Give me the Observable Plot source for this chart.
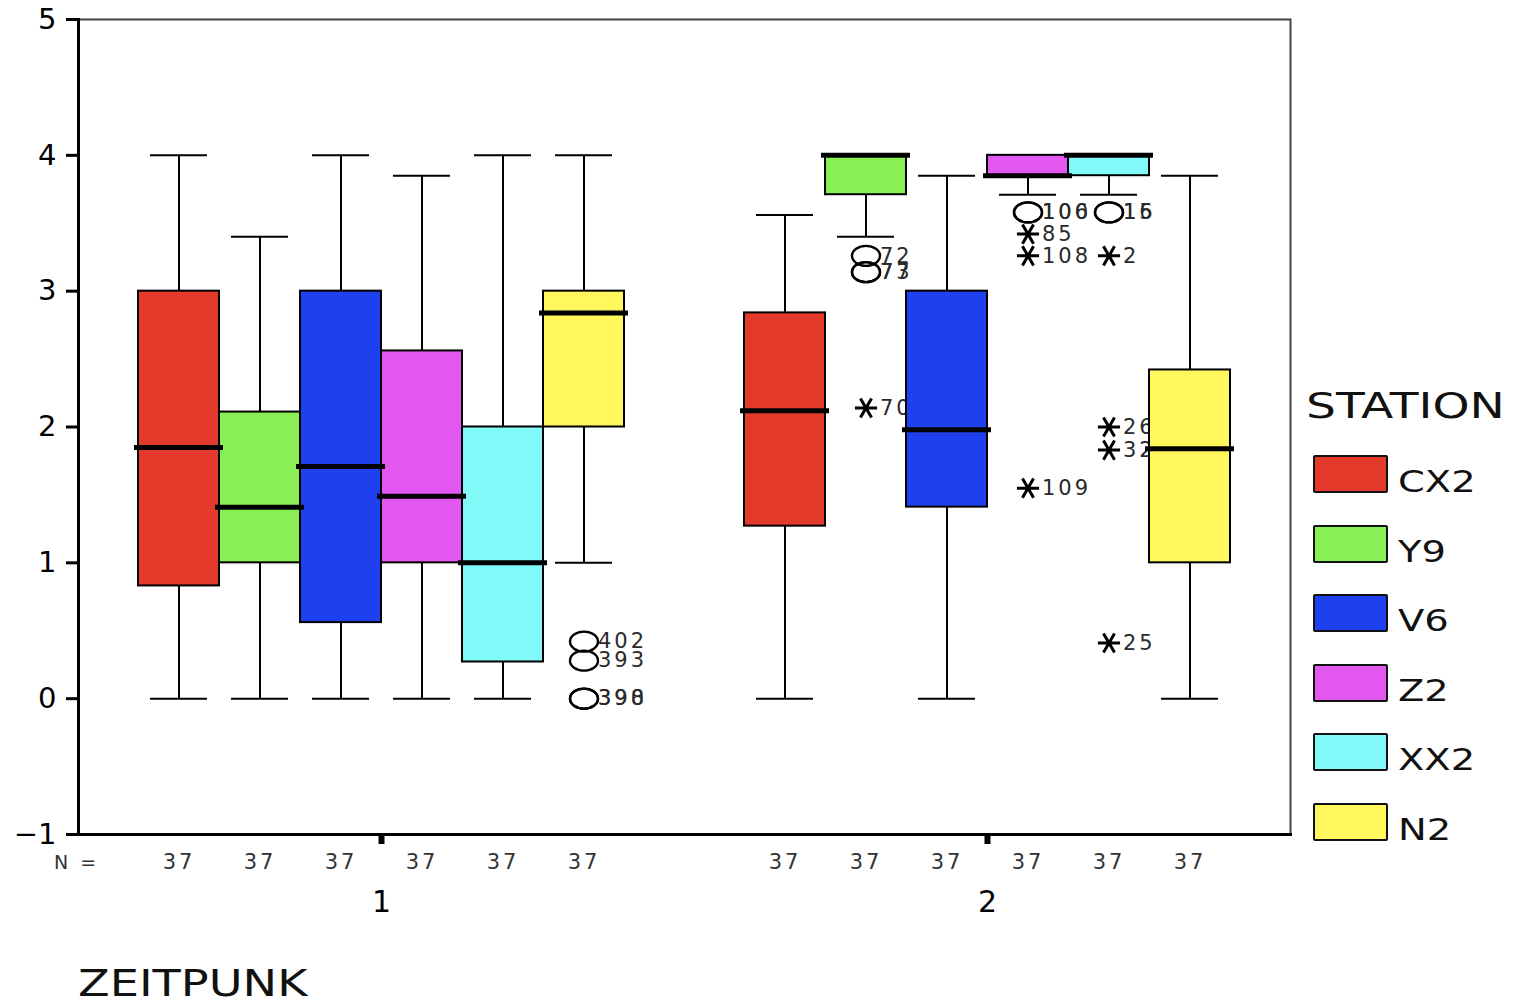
<!DOCTYPE html>
<html><head><meta charset="utf-8">
<script src="https://cdn.jsdelivr.net/npm/d3@7"></script>
<script src="https://cdn.jsdelivr.net/npm/@observablehq/plot@0.6"></script>
<style>
body{margin:0;background:#fff;font-family:"DejaVu Sans",sans-serif;}
#wrap{position:relative;width:1530px;height:1004px;overflow:hidden;background:#fff;}
#chart{position:absolute;left:0;top:0;}
.legend-title{position:absolute;left:1306px;top:388px;font-size:36px;line-height:1;transform:scaleX(1.31);transform-origin:left top;color:#111;}
.sw{position:absolute;left:1313px;width:71px;height:34px;border:2px solid #111;border-radius:2px;}
.lab{position:absolute;left:1398px;font-size:31px;line-height:1;transform:scaleX(1.24);transform-origin:left top;color:#111;}
.xtitle{position:absolute;left:78px;top:969px;font-size:37px;line-height:0.8;transform:scaleX(1.25);transform-origin:left top;color:#111;}
</style></head><body>
<div id="wrap"><div id="chart"></div><div class="xtitle">ZEITPUNK</div><div id="legend"></div></div>
<script>
// ---- categories ----
const stations = ["CX2", "Y9", "V6", "Z2", "XX2", "N2"];
const stationColors = ["#e43a2b", "#88ef55", "#1f40ee", "#e157ef", "#80f9f8", "#fff75c"];
const zeitpunkte = ["1", "2"];
const yTicks = [-1, 0, 1, 2, 3, 4, 5];

// ---- box statistics, ZEITPUNKT 1 (station order) ----
const t1Min    = [0.00, 0.00, 0.00, 0.00, 0.00, 1.00];
const t1Q1     = [0.83, 1.00, 0.56, 1.00, 0.27, 2.00];
const t1Median = [1.85, 1.41, 1.71, 1.49, 1.00, 2.84];
const t1Q3     = [3.00, 2.11, 3.00, 2.56, 2.00, 3.00];
const t1Max    = [4.00, 3.40, 4.00, 3.85, 4.00, 4.00];
const t1N      = [37, 37, 37, 37, 37, 37];

// ---- box statistics, ZEITPUNKT 2 ----
const t2Min    = [0.00, 3.40, 0.00, 3.71, 3.71, 0.00];
const t2Q1     = [1.27, 3.71, 1.41, 3.85, 3.85, 1.00];
const t2Median = [2.12, 4.00, 1.98, 3.85, 4.00, 1.84];
const t2Q3     = [2.84, 4.00, 3.00, 4.00, 4.00, 2.42];
const t2Max    = [3.56, 4.00, 3.85, 4.00, 4.00, 3.85];
const t2N      = [37, 37, 37, 37, 37, 37];

// ---- outliers (o) and extremes (*) ----
const outTime    = ["1","1","1","1","2","2","2","2","2","2","2","2","2","2","2","2","2","2","2"];
const outStation = ["N2","N2","N2","N2","Y9","Y9","Y9","Y9","Z2","Z2","Z2","Z2","Z2","XX2","XX2","XX2","XX2","XX2","XX2"];
const outValue   = [0.42, 0.28, 0.00, 0.00, 3.26, 3.14, 3.14, 2.14, 3.58, 3.58, 3.42, 3.26, 1.55, 3.58, 3.58, 3.26, 2.00, 1.83, 0.41];
const outCase    = ["402","393","398","390","72","77","73","70","106","100","85","108","109","16","15","2","26","32","25"];
const outKind    = ["o","o","o","o","o","o","o","*","o","o","*","*","*","o","o","*","*","*","*"];

// ---- build tables ----
const stats = {
  "1": {min: t1Min, q1: t1Q1, median: t1Median, q3: t1Q3, max: t1Max, n: t1N},
  "2": {min: t2Min, q1: t2Q1, median: t2Median, q3: t2Q3, max: t2Max, n: t2N}
};
const boxes = [];
zeitpunkte.forEach(t => stations.forEach((s, i) => boxes.push({
  time: t, station: s, min: stats[t].min[i], q1: stats[t].q1[i], median: stats[t].median[i],
  q3: stats[t].q3[i], max: stats[t].max[i], n: String(stats[t].n[i])
})));
const outliers = outTime.map((t, i) => ({time: t, station: outStation[i], value: outValue[i], label: outCase[i], kind: outKind[i]}));

const ellipse = {
  draw(context, size) {
    const r = Math.sqrt(size / Math.PI);
    const rx = r * 1.4, ry = r, k = 0.5523;
    context.moveTo(rx, 0);
    context.bezierCurveTo(rx, ry * k, rx * k, ry, 0, ry);
    context.bezierCurveTo(-rx * k, ry, -rx, ry * k, -rx, 0);
    context.bezierCurveTo(-rx, -ry * k, -rx * k, -ry, 0, -ry);
    context.bezierCurveTo(rx * k, -ry, rx, -ry * k, rx, 0);
    context.closePath();
  }
};
const fmt = d => d < 0 ? "\u2212" + (-d) : String(d);

const plot = Plot.plot({
  width: 1300, height: 920,
  marginLeft: 78, marginRight: 10, marginTop: 19, marginBottom: 86,
  style: {fontFamily: "DejaVu Sans, sans-serif", background: "white", overflow: "visible"},
  fx: {domain: zeitpunkte, paddingInner: 0, paddingOuter: 0, axis: null, label: null},
  x: {domain: stations, paddingInner: 0, paddingOuter: 0.74, axis: null, label: null},
  y: {domain: [-1, 5], axis: null, label: null},
  color: {domain: stations, range: stationColors},
  marks: [
    Plot.text(outliers, {fx: "time", x: "station", y: "value", text: "label", textAnchor: "start", dx: 14, fontSize: 21, fill: "#2a2a2a"}),
    Plot.ruleX(boxes, {fx: "time", x: "station", y1: "min", y2: "max", stroke: "black", strokeWidth: 2}),
    Plot.tickY(boxes.filter(d => d.min < d.q1), {fx: "time", x: "station", y: "min", stroke: "black", strokeWidth: 2, insetLeft: 12, insetRight: 12}),
    Plot.tickY(boxes.filter(d => d.max > d.q3), {fx: "time", x: "station", y: "max", stroke: "black", strokeWidth: 2, insetLeft: 12, insetRight: 12}),
    Plot.barY(boxes, {fx: "time", x: "station", y1: "q1", y2: "q3", fill: "station", stroke: "black", strokeWidth: 2}),
    Plot.tickY(boxes, {fx: "time", x: "station", y: "median", stroke: "black", strokeWidth: 5, insetLeft: -4, insetRight: -4}),
    Plot.dot(outliers.filter(d => d.kind === "o"), {fx: "time", x: "station", y: "value", symbol: ellipse, r: 10, stroke: "black", strokeWidth: 2.4, fill: "none"}),
    Plot.dot(outliers.filter(d => d.kind === "*"), {fx: "time", x: "station", y: "value", symbol: "asterisk", rotate: 90, r: 10.5, stroke: "black", strokeWidth: 3}),
    Plot.frame({facet: "super", stroke: "#444", strokeWidth: 2}),
    Plot.frame({facet: "super", anchor: "left", stroke: "black", strokeWidth: 3}),
    Plot.frame({facet: "super", anchor: "bottom", stroke: "black", strokeWidth: 3}),
    Plot.axisY({ticks: yTicks, tickFormat: fmt, tickSize: 12, tickPadding: 10, strokeWidth: 3, fontSize: 29, fill: "black", label: null}),
    Plot.axisFx({anchor: "bottom", tickSize: 10, strokeWidth: 6, tickPadding: 46, fontSize: 30, label: null}),
    Plot.text(boxes, {fx: "time", x: "station", text: "n", frameAnchor: "bottom", dy: 34, fontSize: 21, fill: "#333"}),
    Plot.text(["N ="], {fx: () => "1", text: d => d, frameAnchor: "bottom-left", textAnchor: "middle", dy: 34, dx: -2, fontSize: 19, fill: "#333"})
  ]
});
document.getElementById("chart").appendChild(plot);
// widen the small numeric labels like the reference's stretched lettering
d3.select(plot).selectAll('g[aria-label="text"] text').style("letter-spacing", "3px");

// ---- legend ----
const legend = document.getElementById("legend");
const title = document.createElement("div");
title.className = "legend-title";
title.textContent = "STATION";
legend.appendChild(title);
stations.forEach((s, i) => {
  const top = 455 + i * 69.6;
  const sw = document.createElement("div");
  sw.className = "sw";
  sw.style.top = top + "px";
  sw.style.background = stationColors[i];
  legend.appendChild(sw);
  const lab = document.createElement("div");
  lab.className = "lab";
  lab.style.top = (top + 11) + "px";
  lab.textContent = s;
  legend.appendChild(lab);
});
</script>
</body></html>
